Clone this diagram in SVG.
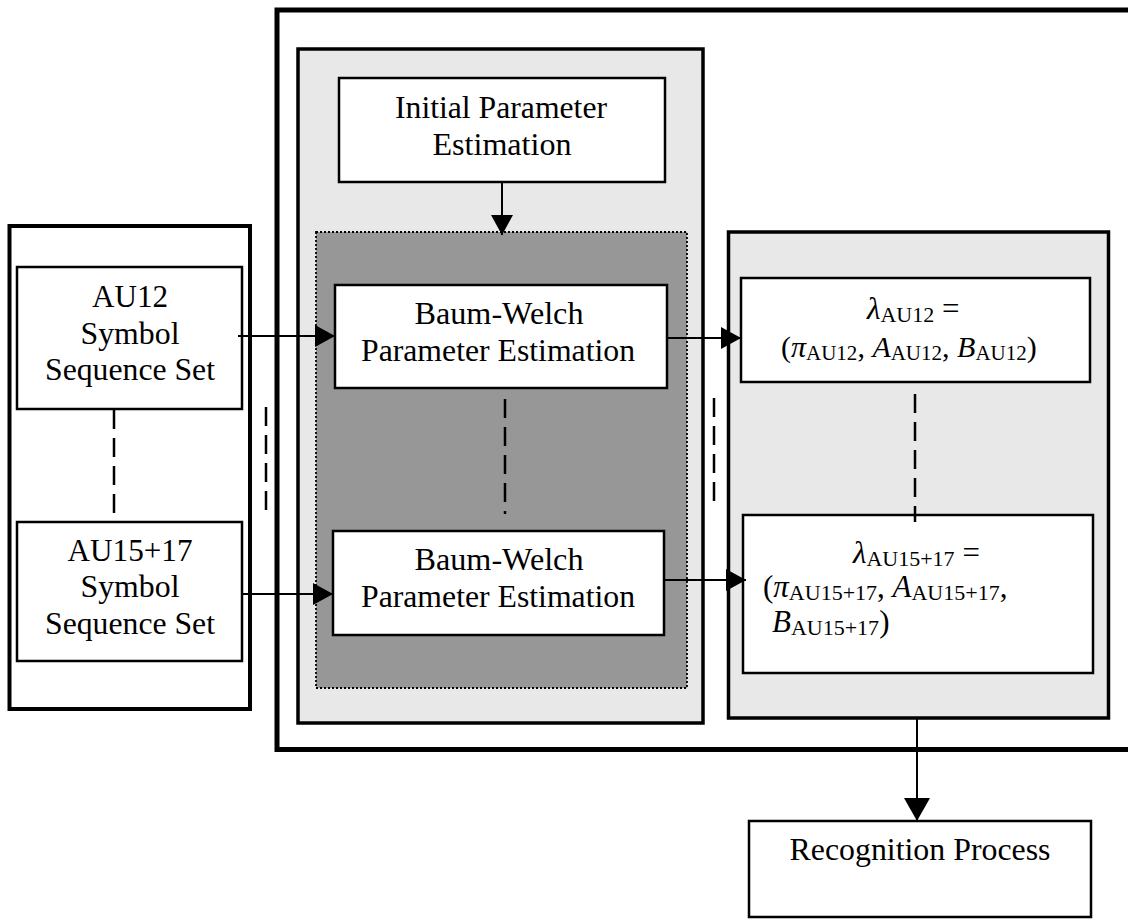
<svg xmlns="http://www.w3.org/2000/svg" width="1128" height="921" viewBox="0 0 1128 921">
<style>
.t{font-family:"Liberation Serif","Times New Roman",serif;font-size:32px;fill:#000;text-anchor:middle}
.m{font-family:"Liberation Serif","Times New Roman",serif;font-size:31px;fill:#000}
.i{font-style:italic}
.s{font-size:22px;font-style:normal}
.box{fill:#fff;stroke:#000;stroke-width:2.5}
.panel{fill:#e8e8e8;stroke:#000;stroke-width:3.5}
.conn{stroke:#000;stroke-width:2;fill:none}
.dash{stroke:#000;stroke-width:2.5;fill:none;stroke-dasharray:19 9}
</style>
<defs>
<marker id="ah" viewBox="0 0 20 22" refX="20" refY="11" markerWidth="20" markerHeight="22" markerUnits="userSpaceOnUse" orient="auto">
<path d="M0,0 L20,11 L0,22 z" fill="#000"/>
</marker>
<marker id="ahb" viewBox="0 0 23 26" refX="23" refY="13" markerWidth="23" markerHeight="26" markerUnits="userSpaceOnUse" orient="auto">
<path d="M0,0 L23,13 L0,26 z" fill="#000"/>
</marker>
</defs>

<g id="outer-frame">
<rect x="277" y="10" width="900" height="739.5" fill="none" stroke="#000" stroke-width="5"/>
</g>

<g id="left-panel">
<rect x="9.5" y="226" width="240.5" height="483" fill="#fff" stroke="#000" stroke-width="4"/>
</g>

<g id="au12">
<rect class="box" x="17" y="267" width="225" height="142"/>
<text class="t" x="130" y="307" textLength="76" lengthAdjust="spacingAndGlyphs">AU12</text>
<text class="t" x="130" y="344" textLength="99" lengthAdjust="spacingAndGlyphs">Symbol</text>
<text class="t" x="130" y="380" textLength="170" lengthAdjust="spacingAndGlyphs">Sequence Set</text>
</g>

<g id="au1517">
<rect class="box" x="17" y="522" width="225" height="139"/>
<text class="t" x="130" y="561" textLength="125" lengthAdjust="spacingAndGlyphs">AU15+17</text>
<text class="t" x="130" y="597" textLength="99" lengthAdjust="spacingAndGlyphs">Symbol</text>
<text class="t" x="130" y="634" textLength="170" lengthAdjust="spacingAndGlyphs">Sequence Set</text>
</g>

<g id="training-panel">
<rect class="panel" x="298" y="49" width="405" height="674"/>
</g>

<g id="initial">
<rect class="box" x="339" y="78" width="326" height="104"/>
<text class="t" x="501" y="118" textLength="212" lengthAdjust="spacingAndGlyphs">Initial Parameter</text>
<text class="t" x="502" y="155" textLength="139" lengthAdjust="spacingAndGlyphs">Estimation</text>
</g>

<g id="bw-group">
<rect x="316" y="232" width="371" height="456" fill="#979797" stroke="#000" stroke-width="1.8" stroke-dasharray="2 2"/>
</g>

<g id="bw1">
<rect class="box" x="335" y="285" width="332" height="103"/>
<text class="t" x="499" y="324" textLength="169" lengthAdjust="spacingAndGlyphs">Baum-Welch</text>
<text class="t" x="498" y="361" textLength="274" lengthAdjust="spacingAndGlyphs">Parameter Estimation</text>
</g>

<g id="bw2">
<rect class="box" x="333" y="531" width="331" height="104"/>
<text class="t" x="499" y="570" textLength="169" lengthAdjust="spacingAndGlyphs">Baum-Welch</text>
<text class="t" x="498" y="607" textLength="274" lengthAdjust="spacingAndGlyphs">Parameter Estimation</text>
</g>

<g id="model-panel">
<rect class="panel" x="728.5" y="232" width="380" height="486"/>
</g>

<g id="lambda12">
<rect class="box" x="741" y="278" width="349" height="104"/>
<text class="m" x="867" y="319"><tspan class="i">λ</tspan><tspan class="s" dy="3">AU12</tspan><tspan dy="-3"> =</tspan></text>
<text class="m" x="781" y="357" style="font-size:30px">(<tspan class="i">π</tspan><tspan class="s" dy="3" style="font-size:21px">AU12</tspan><tspan dy="-3">, </tspan><tspan class="i">A</tspan><tspan class="s" dy="3" style="font-size:21px">AU12</tspan><tspan dy="-3">, </tspan><tspan class="i">B</tspan><tspan class="s" dy="3" style="font-size:21px">AU12</tspan><tspan dy="-3">)</tspan></text>
</g>

<g id="lambda1517">
<rect class="box" x="743" y="515" width="350" height="158"/>
<text class="m" x="853" y="563"><tspan class="i">λ</tspan><tspan class="s" dy="3">AU15+17</tspan><tspan dy="-3"> =</tspan></text>
<text class="m" x="763" y="597">(<tspan class="i">π</tspan><tspan class="s" dy="3">AU15+17</tspan><tspan dy="-3">, </tspan><tspan class="i">A</tspan><tspan class="s" dy="3">AU15+17</tspan><tspan dy="-3">,</tspan></text>
<text class="m" x="772" y="632"><tspan class="i">B</tspan><tspan class="s" dy="3">AU15+17</tspan><tspan dy="-3">)</tspan></text>
</g>

<g id="recognition">
<rect class="box" x="749" y="821" width="342" height="96"/>
<text class="t" x="920" y="860" textLength="261" lengthAdjust="spacingAndGlyphs">Recognition Process</text>
</g>

<g id="connectors">
<line class="conn" x1="502" y1="182" x2="502" y2="235" marker-end="url(#ah)"/>
<line class="conn" x1="238" y1="336" x2="335" y2="336" stroke-width="2.5" marker-end="url(#ah)"/>
<line class="conn" x1="242" y1="594" x2="333" y2="594" stroke-width="2.5" marker-end="url(#ah)"/>
<line class="conn" x1="667" y1="338" x2="741" y2="338" marker-end="url(#ah)"/>
<line class="conn" x1="664" y1="580" x2="746" y2="580" marker-end="url(#ah)"/>
<line class="conn" x1="917" y1="718" x2="917" y2="821" stroke-width="4" marker-end="url(#ahb)"/>
<line class="dash" x1="114" y1="410" x2="114" y2="513"/>
<line class="dash" x1="266" y1="407" x2="266" y2="510"/>
<line class="dash" x1="505" y1="399" x2="505" y2="514" stroke-dasharray="20 9"/>
<line class="dash" x1="714" y1="398" x2="714" y2="502"/>
<line class="dash" x1="915" y1="394" x2="915" y2="522" stroke-dasharray="20 8"/>
</g>
</svg>
